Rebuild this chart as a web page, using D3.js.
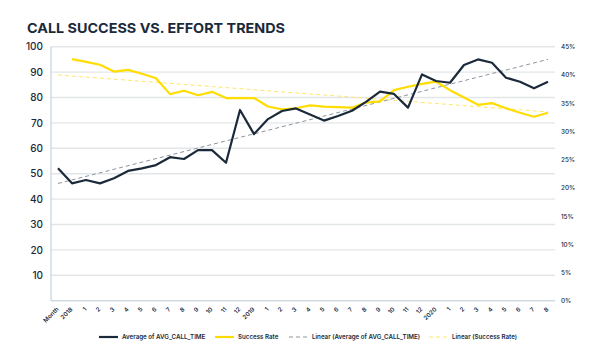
<!DOCTYPE html>
<html>
<head>
<meta charset="utf-8">
<script src="https://cdn.jsdelivr.net/npm/d3@7"></script>
<style>
  html, body { margin: 0; padding: 0; background: #fff; }
  svg { display: block; }
  text { font-family: Inter, "DejaVu Sans", sans-serif; }
</style>
</head>
<body>
<svg id="chart" width="600" height="360"></svg>
<script>
const categories = ["Month","2018","1","2","3","4","5","6","7","8","9","10","11","12",
  "2019","1","2","3","4","5","6","7","8","9","10","11","12",
  "2020","1","2","3","4","5","6","7","8"];
const avgCallTime = [52.1,46.2,47.5,46.2,48.2,51.1,52.1,53.4,56.5,55.8,59.3,59.3,54.3,75.1,65.6,71.5,74.7,75.7,
  73.3,70.9,72.7,74.8,78.3,82.3,81.4,76.0,89.1,86.5,85.8,92.8,95.0,93.7,87.8,86.2,83.6,86.2];
const successRate = [null,42.8,42.3,41.8,40.6,40.9,40.2,39.4,36.6,37.2,36.4,37.0,35.9,35.9,35.9,34.4,33.9,34.1,
  34.6,34.4,34.3,34.2,35.1,35.3,37.3,37.9,38.4,38.8,37.3,36.0,34.7,35.0,34.1,33.3,32.6,33.3];
const leftTicks = [10,20,30,40,50,60,70,80,90,100];
const rightTicks = [0,5,10,15,20,25,30,35,40,45];
const legendLabels = ["Average of AVG_CALL_TIME","Success Rate","Linear (Average of AVG_CALL_TIME)","Linear (Success Rate)"];
const titleText = "CALL SUCCESS VS. EFFORT TRENDS";

const NAVY = "#1b2a3b", YELLOW = "#ffdd00";
const svg = d3.select("#chart");
const m = {left: 51, right: 555, top: 46.7, bottom: 300.7};

const x = d3.scaleBand().domain(d3.range(categories.length)).range([m.left, m.right]);
const xc = i => x(i) + x.bandwidth() / 2;
const yL = d3.scaleLinear().domain([0, 100]).range([m.bottom, m.top]);
const yR = d3.scaleLinear().domain([0, 45]).range([m.bottom, m.top]);

// title
svg.append("text").attr("x", 27).attr("y", 33).text(titleText)
  .attr("font-size", 13.5).attr("font-weight", 700).attr("fill", NAVY)
  .attr("textLength", 258).attr("lengthAdjust", "spacingAndGlyphs");

// gridlines
svg.append("g").selectAll("line").data(leftTicks).join("line")
  .attr("x1", m.left).attr("x2", m.right)
  .attr("y1", d => yL(d)).attr("y2", d => yL(d))
  .attr("stroke", "#e3e6e8").attr("stroke-width", 1.4);
svg.append("line").attr("x1", m.left).attr("x2", m.right)
  .attr("y1", yL(0)).attr("y2", yL(0)).attr("stroke", "#cfdbe3").attr("stroke-width", 1.4);
svg.append("line").attr("x1", m.left).attr("x2", m.left)
  .attr("y1", m.top).attr("y2", m.bottom).attr("stroke", "#b9cad6").attr("stroke-width", 1);

// left axis
const gl = svg.append("g").attr("transform", `translate(${m.left - 8},0)`)
  .call(d3.axisLeft(yL).tickValues(leftTicks).tickSize(0).tickPadding(0));
gl.select(".domain").remove();
gl.selectAll("text").attr("font-size", 10).attr("font-weight", 500).attr("fill", NAVY)
  .attr("font-family", "Inter, sans-serif");

// right axis
const gr = svg.append("g").attr("transform", `translate(${m.right + 6},0)`)
  .call(d3.axisRight(yR).tickValues(rightTicks).tickSize(0).tickPadding(0).tickFormat(d => d + "%"));
gr.select(".domain").remove();
gr.selectAll("text").attr("font-size", 6.3).attr("font-weight", 500).attr("fill", NAVY)
  .attr("font-family", "Inter, sans-serif");

// x axis labels
const gx = svg.append("g").attr("transform", `translate(0,${m.bottom})`)
  .call(d3.axisBottom(x).tickSize(0).tickPadding(0).tickFormat(i => categories[i]));
gx.select(".domain").remove();
gx.selectAll(".tick text")
  .attr("font-size", 6).attr("font-weight", 600).attr("fill", NAVY)
  .attr("font-family", "Inter, sans-serif")
  .attr("text-anchor", "end").attr("dy", 0).attr("y", 0)
  .attr("transform", "translate(1,9) rotate(-45)");

// regression helper
function linReg(vals) {
  const pts = vals.map((v, i) => [i, v]).filter(p => p[1] != null);
  const mx = d3.mean(pts, p => p[0]), my = d3.mean(pts, p => p[1]);
  const b = d3.sum(pts, p => (p[0] - mx) * (p[1] - my)) / d3.sum(pts, p => (p[0] - mx) ** 2);
  return i => my + b * (i - mx);
}
const idx = d3.range(categories.length);
const trendA = linReg(avgCallTime), trendS = linReg(successRate);

// trend lines
svg.append("path").datum(idx)
  .attr("d", d3.line().x(xc).y(i => yR(trendS(i))))
  .attr("fill", "none").attr("stroke", "#ffe66b").attr("stroke-width", 1).attr("stroke-dasharray", "4,3");
svg.append("path").datum(idx)
  .attr("d", d3.line().x(xc).y(i => yL(trendA(i))))
  .attr("fill", "none").attr("stroke", "#8e949c").attr("stroke-width", 1).attr("stroke-dasharray", "4,3");

// series lines
svg.append("path").datum(successRate.map((v, i) => [i, v]))
  .attr("d", d3.line().defined(d => d[1] != null).x(d => xc(d[0])).y(d => yR(d[1])))
  .attr("fill", "none").attr("stroke", YELLOW).attr("stroke-width", 2.2).attr("stroke-linejoin", "round");
svg.append("path").datum(avgCallTime.map((v, i) => [i, v]))
  .attr("d", d3.line().x(d => xc(d[0])).y(d => yL(d[1])))
  .attr("fill", "none").attr("stroke", NAVY).attr("stroke-width", 2.2).attr("stroke-linejoin", "round");

// legend
const legendItems = [
  {x: 99, tx: 122, stroke: NAVY, w: 2.2, dash: null},
  {x: 215, tx: 238, stroke: YELLOW, w: 2.2, dash: null},
  {x: 289, tx: 312, stroke: "#8e949c", w: 1, dash: "4,3"},
  {x: 429, tx: 452, stroke: "#ffe66b", w: 1, dash: "4,3"}
];
const lg = svg.append("g");
legendItems.forEach((it, k) => {
  lg.append("line").attr("x1", it.x).attr("x2", it.x + 19).attr("y1", 337).attr("y2", 337)
    .attr("stroke", it.stroke).attr("stroke-width", it.w).attr("stroke-dasharray", it.dash);
  lg.append("text").attr("x", it.tx).attr("y", 339.2).text(legendLabels[k])
    .attr("font-size", 6.2).attr("font-weight", 600).attr("fill", NAVY);
});
</script>
</body>
</html>
